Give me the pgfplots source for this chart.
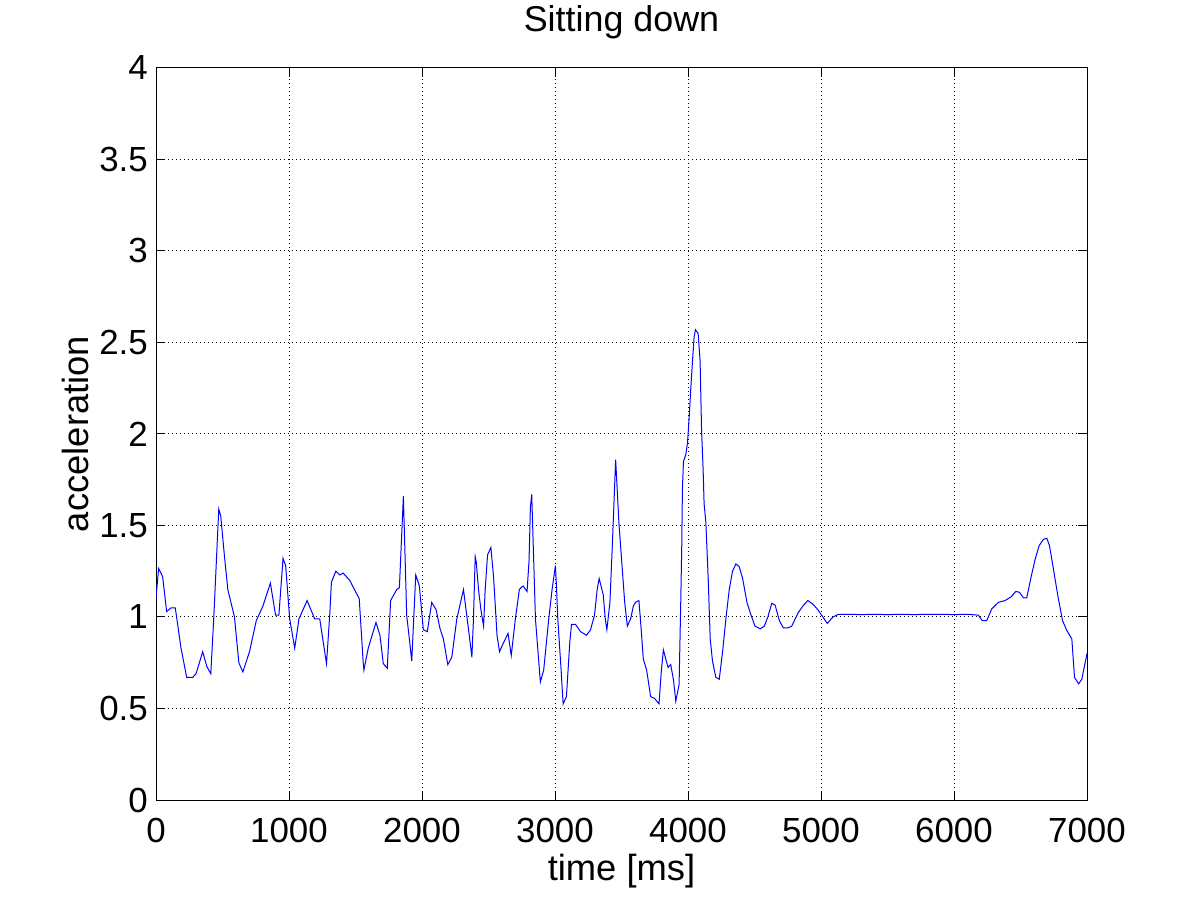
\documentclass[border=0pt]{standalone}
\usepackage{fontspec}
\setmainfont{Liberation Sans}
\usepackage{pgfplots}
\pgfplotsset{compat=1.18}
\pgfplotstableread{
t v
0 1.107
20 1.265
50 1.22
80 1.03
113 1.05
145 1.05
188 0.83
231 0.67
276 0.67
301 0.69
351 0.81
382 0.73
412 0.69
434 0.99
472 1.59
487 1.55
515 1.33
540 1.15
590 1.00
623 0.75
653 0.70
703 0.81
754 0.98
804 1.06
860 1.185
899 1.01
924 1.01
955 1.32
975 1.28
1005 0.99
1043 0.83
1075 0.99
1136 1.09
1193 0.99
1231 0.99
1282 0.745
1307 1.02
1319 1.19
1352 1.25
1382 1.23
1407 1.24
1457 1.20
1528 1.10
1558 0.75
1563 0.71
1596 0.83
1654 0.97
1684 0.90
1709 0.745
1739 0.72
1764 1.09
1810 1.15
1830 1.16
1860 1.66
1885 1.01
1923 0.76
1953 1.23
1980 1.17
2010 0.93
2040 0.92
2073 1.08
2106 1.04
2136 0.935
2161 0.88
2194 0.74
2224 0.78
2262 0.99
2312 1.15
2362 0.86
2375 0.78
2387 0.99
2400 1.33
2408 1.30
2425 1.15
2443 1.04
2463 0.95
2475 1.15
2493 1.34
2518 1.38
2538 1.22
2564 0.90
2583 0.81
2613 0.86
2647 0.91
2671 0.79
2702 0.99
2732 1.15
2760 1.17
2790 1.14
2805 1.31
2815 1.60
2825 1.67
2832 1.50
2853 0.99
2870 0.83
2890 0.645
2915 0.71
2953 0.99
2978 1.15
3003 1.28
3011 1.17
3021 0.99
3046 0.71
3061 0.525
3086 0.565
3111 0.86
3124 0.96
3154 0.96
3192 0.92
3237 0.90
3267 0.93
3297 1.01
3317 1.15
3332 1.21
3363 1.12
3378 0.99
3390 0.93
3413 1.08
3431 1.39
3456 1.86
3481 1.51
3506 1.26
3524 1.08
3544 0.95
3569 0.99
3589 1.06
3606 1.08
3631 1.09
3644 0.97
3664 0.77
3689 0.71
3719 0.565
3749 0.555
3782 0.525
3800 0.71
3815 0.82
3833 0.77
3850 0.725
3870 0.74
3891 0.655
3908 0.54
3933 0.63
3946 1.10
3953 1.39
3958 1.70
3966 1.85
3983 1.886
3996 1.95
4008 2.08
4021 2.25
4034 2.40
4046 2.53
4056 2.57
4076 2.55
4091 2.40
4102 2.02
4114 1.80
4121 1.62
4134 1.52
4152 1.21
4167 0.88
4184 0.76
4209 0.67
4235 0.66
4260 0.81
4285 0.99
4310 1.15
4335 1.25
4360 1.29
4385 1.275
4411 1.21
4443 1.08
4474 1.01
4504 0.95
4544 0.935
4574 0.95
4600 1.0
4630 1.075
4655 1.065
4687 0.98
4717 0.94
4750 0.94
4780 0.95
4826 1.02
4863 1.06
4901 1.09
4939 1.07
4976 1.04
5014 1.0
5047 0.965
5090 1.0
5132 1.015
5200 1.015
5300 1.013
5400 1.015
5500 1.013
5600 1.015
5700 1.013
5800 1.015
5900 1.015
6000 1.013
6100 1.015
6183 1.01
6213 0.98
6246 0.98
6284 1.045
6334 1.08
6384 1.09
6429 1.11
6465 1.14
6492 1.135
6522 1.105
6547 1.105
6580 1.22
6610 1.315
6640 1.39
6673 1.425
6698 1.43
6718 1.39
6748 1.26
6781 1.115
6816 0.98
6849 0.925
6886 0.88
6906 0.67
6937 0.635
6961 0.66
7000 0.80
}\datatable
\begin{document}
\begin{tikzpicture}
\useasboundingbox (0,0) rectangle (1201bp,901bp);
\begin{axis}[
  at={(156bp,101bp)}, anchor=south west,
  scale only axis, width=931bp, height=732bp,
  xmin=0, xmax=7000, ymin=0, ymax=4,
  xtick={0,1000,...,7000},
  ytick={0,0.5,...,4},
  scaled ticks=false,
  /pgf/number format/1000 sep={},
  /pgf/number format/assume math mode=true,
  tick pos=both, tick align=inside,
  major tick length=9bp,
  tick style={black, line width=1bp},
  axis line style={black, line width=1bp},
  grid=major,
  major grid style={black, line width=1bp, dash pattern=on 1bp off 3bp},
  ticklabel style={font=\fontsize{35}{40}\selectfont},
  xticklabel style={anchor=base, inner sep=0pt, yshift=-42bp},
  yticklabel style={anchor=east, inner sep=0pt, xshift=-8bp},
  title={Sitting down},
  title style={font=\fontsize{36}{42}\selectfont, at={(axis description cs:0.5,1.0423)}, anchor=base, inner sep=0pt},
  xlabel={time [ms]},
  xlabel style={font=\fontsize{36.5}{42}\selectfont, at={(axis description cs:0.5,-0.1093)}, anchor=base, inner sep=0pt},
  ylabel={acceleration},
  ylabel style={font=\fontsize{36.5}{42}\selectfont, at={(axis description cs:-0.0725,0.5)}, anchor=base, inner sep=0pt, rotate=0},
]
\addplot[color={rgb,255:red,0;green,0;blue,255}, line width=1bp, no markers] table[x=t, y=v] {\datatable};
\end{axis}
\end{tikzpicture}
\end{document}
